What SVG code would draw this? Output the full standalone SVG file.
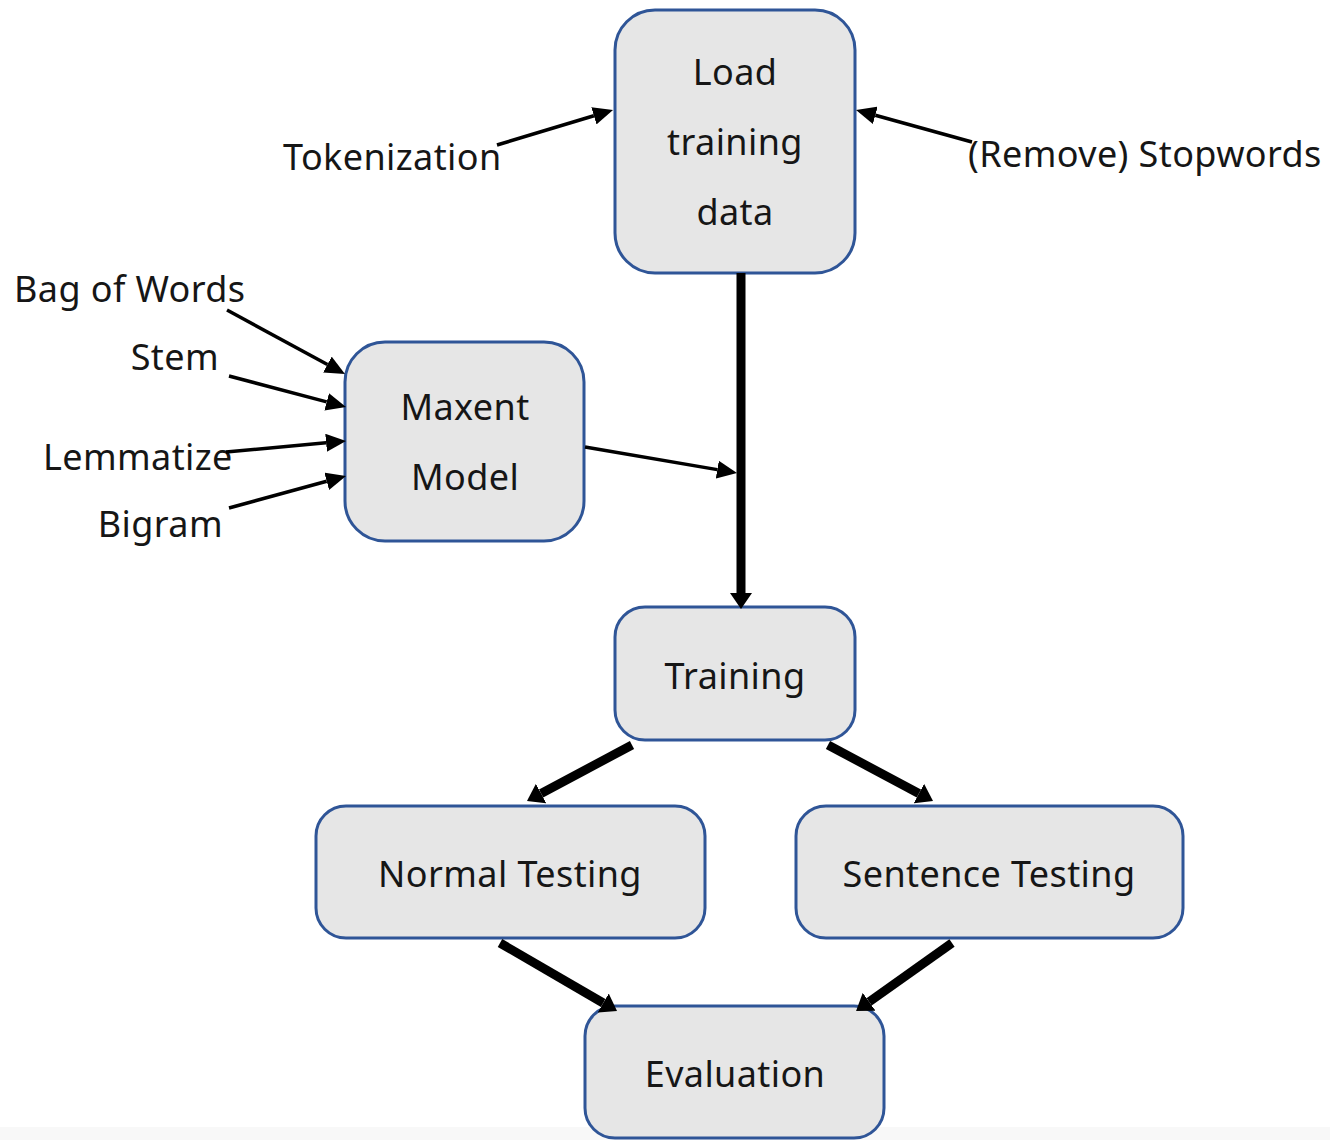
<svg xmlns="http://www.w3.org/2000/svg" width="1330" height="1140" viewBox="0 0 1330 1140">
  <style>
    .box { fill: #E6E6E6; stroke: #2F5597; stroke-width: 3; }
    .lbl { font-family: "Noto Sans", "Open Sans", sans-serif; font-size: 36px; letter-spacing: 0.4px; fill: #161616; }
    .mid { text-anchor: middle; }
    .end { text-anchor: end; }
    .thin { stroke: #000; stroke-width: 3.5; fill: none; marker-end: url(#headThin); }
    .thick { stroke: #000; stroke-width: 9; fill: none; marker-end: url(#headThick); }
  </style>
  <defs>
    <marker id="headThin" markerUnits="userSpaceOnUse" markerWidth="20" markerHeight="18" refX="0" refY="9" orient="auto">
      <path d="M0,0 L20,9 L0,18 z" fill="#000"/>
    </marker>
    <marker id="headThick" markerUnits="userSpaceOnUse" markerWidth="16" markerHeight="22" refX="0" refY="11" orient="auto">
      <path d="M0,0 L16,11 L0,22 z" fill="#000"/>
    </marker>
  </defs>

  <rect x="0" y="0" width="1330" height="1140" fill="#FFFFFF"/>
  <rect x="0" y="1127" width="1330" height="13" fill="#F8F8F8"/>

  <!-- free-standing labels -->
  <g id="labels">
    <text class="lbl" x="283" y="170">Tokenization</text>
    <text class="lbl" x="968" y="167">(Remove) Stopwords</text>
    <text class="lbl" x="14" y="302">Bag of Words</text>
    <text class="lbl end" x="219" y="370">Stem</text>
    <text class="lbl" x="43" y="470">Lemmatize</text>
    <text class="lbl end" x="223" y="537">Bigram</text>
  </g>

  <g id="load">
    <rect class="box" x="615" y="10" width="240" height="263" rx="40"/>
    <text class="lbl mid" x="735" y="85">Load</text>
    <text class="lbl mid" x="735" y="155">training</text>
    <text class="lbl mid" x="735" y="225">data</text>
  </g>

  <g id="maxent">
    <rect class="box" x="345" y="342" width="239" height="199" rx="40"/>
    <text class="lbl mid" x="465" y="420">Maxent</text>
    <text class="lbl mid" x="465" y="490">Model</text>
  </g>

  <g id="training">
    <rect class="box" x="615" y="607" width="240" height="133" rx="30"/>
    <text class="lbl mid" x="735" y="689">Training</text>
  </g>

  <g id="normal-testing">
    <rect class="box" x="316" y="806" width="389" height="132" rx="30"/>
    <text class="lbl mid" x="510" y="887">Normal Testing</text>
  </g>

  <g id="sentence-testing">
    <rect class="box" x="796" y="806" width="387" height="132" rx="30"/>
    <text class="lbl mid" x="989" y="887">Sentence Testing</text>
  </g>

  <g id="evaluation">
    <rect class="box" x="585" y="1006" width="299" height="132" rx="30"/>
    <text class="lbl mid" x="735" y="1087">Evaluation</text>
  </g>

  <g id="connectors">
    <line class="thin" x1="497" y1="145" x2="593.9" y2="115.8"/>
    <line class="thin" x1="972" y1="142" x2="875.3" y2="115.3"/>
    <line class="thin" x1="227" y1="310" x2="327.4" y2="364.5"/>
    <line class="thin" x1="229" y1="376" x2="326.7" y2="401.9"/>
    <line class="thin" x1="226" y1="452" x2="326.1" y2="442.8"/>
    <line class="thin" x1="229" y1="508" x2="326.7" y2="481.3"/>
    <line class="thin" x1="585" y1="447" x2="717.3" y2="469.6"/>
    <line class="thick" x1="741" y1="273" x2="741" y2="593"/>
    <line class="thick" x1="632" y1="745" x2="541.1" y2="793.5"/>
    <line class="thick" x1="828" y1="745" x2="918.9" y2="793.5"/>
    <line class="thick" x1="500" y1="943" x2="603.2" y2="1003"/>
    <line class="thick" x1="952" y1="943" x2="869.1" y2="1001.8"/>
  </g>
</svg>
